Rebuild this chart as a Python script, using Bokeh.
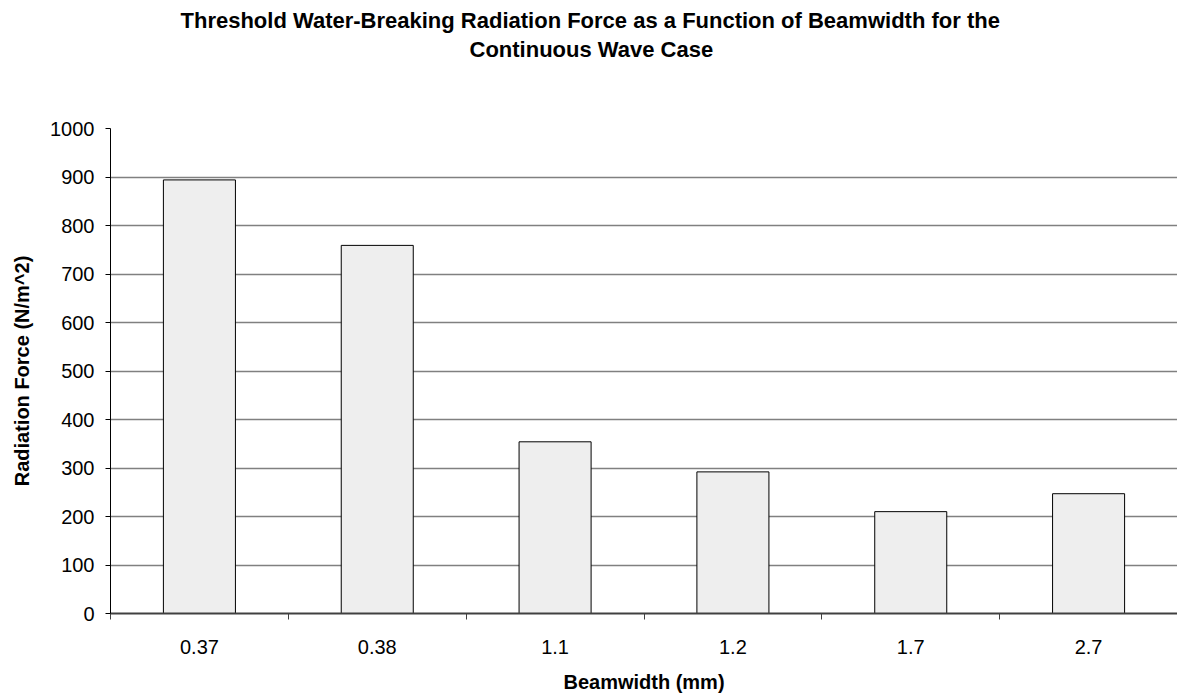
from bokeh.plotting import figure
from bokeh.models import FixedTicker, Title, Range1d, ColumnDataSource
from bokeh.embed import file_html
from bokeh.resources import INLINE

categories = ["0.37", "0.38", "1.1", "1.2", "1.7", "2.7"]
force = [894, 759, 354, 292, 210, 247]
y_ticks = [0, 100, 200, 300, 400, 500, 600, 700, 800, 900, 1000]
title_line1 = "Threshold Water-Breaking Radiation Force as a Function of Beamwidth for the"
title_line2 = "Continuous Wave Case"
x_label = "Beamwidth (mm)"
y_label = "Radiation Force (N/m^2)"

FONT = "Liberation Sans"
n = len(categories)
centers = [i + 0.5 for i in range(n)]
bounds = list(range(n + 1))
src = ColumnDataSource(dict(x=centers, top=force, label=categories))

p = figure(width=1177, height=700, output_backend="svg", toolbar_location=None,
           x_range=Range1d(0, n), y_range=Range1d(0, 1000),
           min_border_left=110, min_border_right=0, min_border_top=128,
           min_border_bottom=87, title=None)
p.outline_line_color = None
p.background_fill_color = "white"
p.border_fill_color = "white"

p.vbar(x="x", top="top", bottom=0, width=0.405, source=src,
       fill_color="#eeeeee", line_color="black", line_width=1)

# grid
p.xgrid.visible = False
p.ygrid.ticker = FixedTicker(ticks=y_ticks)
p.ygrid.grid_line_color = "#808080"
p.ygrid.grid_line_width = 1.5

# x axis
xa = p.xaxis[0]
xa.ticker = FixedTicker(ticks=centers, minor_ticks=bounds)
xa.major_label_overrides = {c: l for c, l in zip(centers, categories)}
xa.major_tick_out = 0
xa.major_tick_in = 0
xa.minor_tick_out = 6
xa.minor_tick_in = 0
xa.minor_tick_line_color = "#404040"
xa.axis_line_color = "#404040"
xa.axis_line_width = 2
xa.major_label_text_font = FONT
xa.major_label_text_font_size = "20px"
xa.major_label_text_color = "black"
xa.major_label_standoff = 20
xa.axis_label = x_label
xa.axis_label_text_font = FONT
xa.axis_label_text_font_size = "20px"
xa.axis_label_text_font_style = "bold"
xa.axis_label_text_color = "black"
xa.axis_label_standoff = 14

# y axis
ya = p.yaxis[0]
ya.ticker = FixedTicker(ticks=y_ticks)
ya.major_tick_out = 5
ya.major_tick_in = 0
ya.minor_tick_out = 0
ya.minor_tick_in = 0
ya.axis_line_color = "black"
ya.major_tick_line_color = "black"
ya.major_label_text_font = FONT
ya.major_label_text_font_size = "20px"
ya.major_label_text_color = "black"
ya.major_label_standoff = 11
ya.axis_label = y_label
ya.axis_label_text_font = FONT
ya.axis_label_text_font_size = "20px"
ya.axis_label_text_font_style = "bold"
ya.axis_label_text_color = "black"
ya.axis_label_standoff = 14

# titles (added nearest-first)
spacer = Title(text=" ", text_font_size="49px", align="left")
t2 = Title(text=title_line2, text_font=FONT, text_font_size="22px",
           text_font_style="bold", text_color="black", align="left",
           offset=359, standoff=2)
t1 = Title(text=title_line1, text_font=FONT, text_font_size="22px",
           text_font_style="bold", text_color="black", align="left",
           offset=70, standoff=2)
p.add_layout(spacer, "above")
p.add_layout(t2, "above")
p.add_layout(t1, "above")

open("out.html", "w").write(file_html(p, INLINE))
